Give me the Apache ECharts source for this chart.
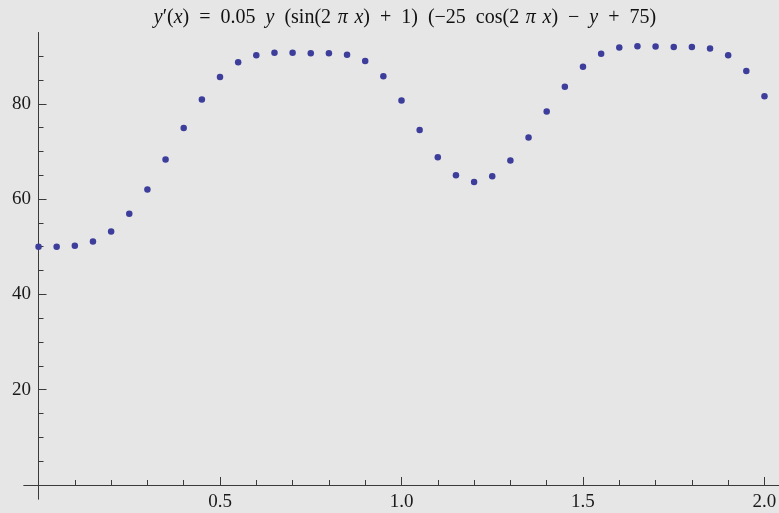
<!DOCTYPE html>
<html>
<head>
<meta charset="utf-8">
<script src="https://cdn.jsdelivr.net/npm/echarts@6/dist/echarts.min.js"></script>
<style>
html,body{margin:0;padding:0;background:#e6e6e6;}
#c{width:779px;height:513px;}
</style>
</head>
<body>
<div id="c"></div>
<script>
// Data
const xValues = [0, 0.05, 0.1, 0.15, 0.2, 0.25, 0.3, 0.35, 0.4, 0.45, 0.5, 0.55, 0.6, 0.65, 0.7, 0.75, 0.8, 0.85, 0.9, 0.95, 1.0,
  1.05, 1.1, 1.15, 1.2, 1.25, 1.3, 1.35, 1.4, 1.45, 1.5, 1.55, 1.6, 1.65, 1.7, 1.75, 1.8, 1.85, 1.9, 1.95, 2.0];
const yValues = [50.0, 50.0, 50.2, 51.1, 53.2, 56.9, 62.0, 68.3, 74.9, 80.9, 85.6, 88.7, 90.2, 90.7, 90.7, 90.6, 90.6, 90.3, 89.0, 85.8, 80.7,
  74.5, 68.8, 65.0, 63.6, 64.8, 68.1, 72.9, 78.4, 83.6, 87.8, 90.5, 91.8, 92.1, 92.0, 91.9, 91.9, 91.6, 90.2, 86.9, 81.6];
const xMajorTicks = [0.5, 1.0, 1.5, 2.0];
const xMinorTicks = [0.1, 0.2, 0.3, 0.4, 0.6, 0.7, 0.8, 0.9, 1.1, 1.2, 1.3, 1.4, 1.6, 1.7, 1.8, 1.9];
const yMajorTicks = [20, 40, 60, 80];
const yMinorTicks = [5, 10, 15, 25, 30, 35, 45, 50, 55, 65, 70, 75, 85, 90, 95];
const S = '\u2002';
const T = '\u2004';
const titleText = '{i|y}\u2032({i|x})' + S + '=' + S + '0.05' + S + '{i|y}' + S + '(sin(2' + T + '{i|\u03c0}' + T + '{i|x})' + S + '+' + S + '1)' + S +
  '(\u221225' + S + 'cos(2' + T + '{i|\u03c0}' + T + '{i|x})' + S + '\u2212' + S + '{i|y}' + S + '+' + S + '75)';

const chart = echarts.init(document.getElementById('c'), null, {renderer: 'canvas'});
const serif = '"Liberation Serif", "DejaVu Serif", serif';
const axisColor = '#3a3a3a';
const pts = xValues.map((x, i) => [x, yValues[i]]);

function xAxisDef(ticks, len, labels) {
  return {
    type: 'value', position: 'bottom', min: -0.04, max: 2.04,
    axisLine: {show: true, onZero: true, onZeroAxisIndex: 0, lineStyle: {color: axisColor, width: 1}},
    axisTick: {show: true, inside: true, length: len, customValues: ticks, lineStyle: {color: axisColor, width: 1}},
    axisLabel: {show: labels, customValues: ticks, margin: -6, color: '#1a1a1a', fontFamily: serif, fontSize: 19,
      formatter: v => v.toFixed(1)},
    splitLine: {show: false}, minorTick: {show: false}
  };
}
function yAxisDef(ticks, len, labels) {
  return {
    type: 'value', position: 'left', min: -2.94, max: 94.92,
    axisLine: {show: true, onZero: true, onZeroAxisIndex: 0, lineStyle: {color: axisColor, width: 1}},
    axisTick: {show: true, inside: true, length: len, customValues: ticks, lineStyle: {color: axisColor, width: 1}},
    axisLabel: {show: labels, customValues: ticks, margin: -7, color: '#1a1a1a', fontFamily: serif, fontSize: 19,
      formatter: v => String(v)},
    splitLine: {show: false}, minorTick: {show: false}
  };
}

chart.setOption({
  backgroundColor: '#e6e6e6',
  animation: false,
  title: {
    text: titleText,
    left: 400, top: 3, textAlign: 'center',
    textStyle: {fontFamily: serif, fontSize: 20, fontWeight: 'normal', color: '#111',
      rich: {i: {fontStyle: 'italic', fontFamily: serif, fontSize: 20, color: '#111'}}}
  },
  grid: {left: 24, width: 755, top: 32.7, height: 466.3, containLabel: false, outerBoundsMode: 'none'},
  xAxis: [xAxisDef(xMajorTicks, 8, true), xAxisDef(xMinorTicks, 5, false)],
  yAxis: [yAxisDef(yMajorTicks, 8, true), yAxisDef(yMinorTicks, 5, false)],
  series: [{
    type: 'scatter', xAxisIndex: 0, yAxisIndex: 0,
    data: pts, symbol: 'circle', symbolSize: 6.5,
    itemStyle: {color: '#3d3d9c', opacity: 1}
  }]
});
</script>
</body>
</html>
